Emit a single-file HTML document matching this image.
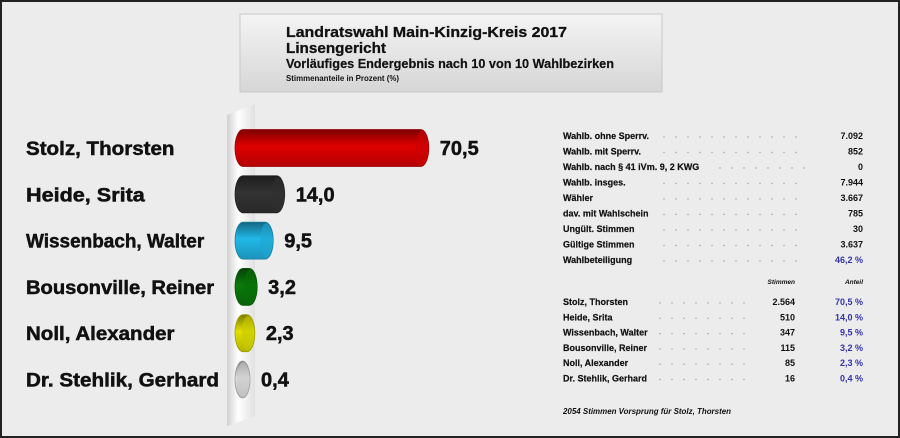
<!DOCTYPE html>
<html><head><meta charset="utf-8"><style>
body{margin:0;background:#ececec}
svg{display:block;font-family:"Liberation Sans","DejaVu Sans",sans-serif}
</style></head><body>
<svg id="chart" width="900" height="438" viewBox="0 0 900 438" xmlns="http://www.w3.org/2000/svg">
<defs>
<linearGradient id="tg" x1="0" y1="0" x2="0" y2="1"><stop offset="0" stop-color="#f4f4f4"/><stop offset="1" stop-color="#d6d6d6"/></linearGradient>
<linearGradient id="wg" x1="0" y1="0" x2="1" y2="0"><stop offset="0" stop-color="#d0d0d0"/><stop offset="0.4" stop-color="#ffffff"/><stop offset="1" stop-color="#e0e0e0"/></linearGradient>
</defs>
<rect x="1" y="1" width="898" height="436" fill="#ececec" stroke="#222" stroke-width="2"/>
<g>
<rect x="240" y="14" width="422" height="78" fill="url(#tg)" stroke="#c8c8c8"/>
<text x="286" y="37" font-size="15" font-weight="bold" fill="#111" stroke="#111" stroke-width="0.3" textLength="281" lengthAdjust="spacingAndGlyphs">Landratswahl Main-Kinzig-Kreis 2017</text>
<text x="286" y="53" font-size="15" font-weight="bold" fill="#111" stroke="#111" stroke-width="0.3" textLength="100" lengthAdjust="spacingAndGlyphs">Linsengericht</text>
<text x="286" y="68" font-size="12.5" font-weight="bold" fill="#111" stroke="#111" stroke-width="0.2" textLength="328" lengthAdjust="spacingAndGlyphs">Vorläufiges Endergebnis nach 10 von 10 Wahlbezirken</text>
<text x="286" y="81" font-size="8" font-weight="bold" fill="#111" textLength="113" lengthAdjust="spacingAndGlyphs">Stimmenanteile in Prozent (%)</text>
</g>
<polygon points="227,115 255,104 255,416 227,426" fill="url(#wg)"/>
<g id="bars"></g>
<g id="table"></g>
</svg>
<script>
const names=["Stolz, Thorsten","Heide, Srita","Wissenbach, Walter","Bousonville, Reiner","Noll, Alexander","Dr. Stehlik, Gerhard"];
const shares=[70.5,14.0,9.5,3.2,2.3,0.4];
const votes=[2564,510,347,115,85,16];
const colors=["#e00000","#333333","#22b8e8","#0a7a0a","#e0e000","#e0e0e0"];
const statLabels=["Wahlb. ohne Sperrv.","Wahlb. mit Sperrv.","Wahlb. nach § 41 iVm. 9, 2 KWG","Wahlb. insges.","Wähler","dav. mit Wahlschein","Ungült. Stimmen","Gültige Stimmen","Wahlbeteiligung"];
const statValues=["7.092","852","0","7.944","3.667","785","30","3.637","46,2 %"];
const NS="http://www.w3.org/2000/svg";
const bars=document.getElementById('bars'),tbl=document.getElementById('table');
function mk(tag,attrs,parent,txt){const e=document.createElementNS(NS,tag);for(const k in attrs)e.setAttribute(k,attrs[k]);if(txt!==undefined)e.textContent=txt;parent.appendChild(e);return e;}
const x0=235;
function xs(v){return 14+v*2.55;}
function ys(i){return 148+i*46.3;}
function fmt(v){return v.toFixed(1).replace('.',',');}
function shade(c,f){const n=parseInt(c.slice(1),16);let r=n>>16,g=(n>>8)&255,b=n&255;r=Math.round(r*f);g=Math.round(g*f);b=Math.round(b*f);return `rgb(${r},${g},${b})`;}
names.forEach((n,i)=>{
  const cy=ys(i),w=xs(shares[i]),h=37;
  const t=mk('text',{x:26,y:cy+7,'font-size':19,'font-weight':'bold',fill:'#111',stroke:'#111','stroke-width':0.5,textLength:n.length*9.7>193?193:n.length*9.9,lengthAdjust:'spacingAndGlyphs'},bars,n);
  
  
  const gid='bg'+i;
  const lg=mk('linearGradient',{id:gid,x1:0,y1:0,x2:0,y2:1},bars);
  mk('stop',{offset:0,'stop-color':shade(colors[i],0.55)},lg);
  mk('stop',{offset:0.45,'stop-color':colors[i]},lg);
  mk('stop',{offset:1,'stop-color':shade(colors[i],0.8)},lg);
  const r=mk('rect',{x:x0,y:cy-h/2,width:w,height:h,rx:8,ry:h/2,fill:`url(#${gid})`,stroke:shade(colors[i],0.7),'stroke-width':0.8},bars);
  
  
  mk('ellipse',{cx:x0+w-7,cy:cy,rx:6,ry:h/2-1,fill:shade(colors[i],0.9),opacity:0.6},bars);
  const v=mk('text',{x:x0+w+11,y:cy+7,'font-size':20,'font-weight':'bold',fill:'#111',stroke:'#111','stroke-width':0.5},bars,fmt(shares[i]));
  
  
});
function dots(y,x1,x2){for(let x=x1;x<=x2;x+=12){mk('circle',{cx:x,cy:y-2,r:0.7,fill:'#999'},tbl);}}
statLabels.forEach((l,i)=>{
  const y=139+i*15.5;
  const a=mk('text',{x:563,y:y,'font-size':9,'font-weight':'bold',fill:'#111',stroke:'#111','stroke-width':0.2},tbl,l);
  
  
  dots(y,i===2?720:664,805);
  const b=mk('text',{x:863,y:y,'font-size':9,'font-weight':'bold','text-anchor':'end',fill:i===8?'#3333aa':'#111'},tbl,statValues[i]);
  
  
});
const h1=mk('text',{x:795,y:284,'font-size':6.5,'font-weight':'bold','font-style':'italic','text-anchor':'end',fill:'#111'},tbl,'Stimmen');


const h2=mk('text',{x:863,y:284,'font-size':6.5,'font-weight':'bold','font-style':'italic','text-anchor':'end',fill:'#111'},tbl,'Anteil');


names.forEach((n,i)=>{
  const y=305+i*15.3;
  const a=mk('text',{x:563,y:y,'font-size':9,'font-weight':'bold',fill:'#111',stroke:'#111','stroke-width':0.2},tbl,n);
  
  
  dots(y,660,744);
  const b=mk('text',{x:795,y:y,'font-size':9,'font-weight':'bold','text-anchor':'end',fill:'#111'},tbl,votes[i].toLocaleString('de-DE'));
  
  
  const c=mk('text',{x:863,y:y,'font-size':9,'font-weight':'bold','text-anchor':'end',fill:'#3333aa'},tbl,fmt(shares[i])+' %');
  
  
});
const f=mk('text',{x:563,y:414,'font-size':8,'font-weight':'bold','font-style':'italic',fill:'#111',textLength:168,lengthAdjust:'spacingAndGlyphs'},tbl,(votes[0]-votes[1])+' Stimmen Vorsprung für '+names[0]);


</script>
</body></html>
